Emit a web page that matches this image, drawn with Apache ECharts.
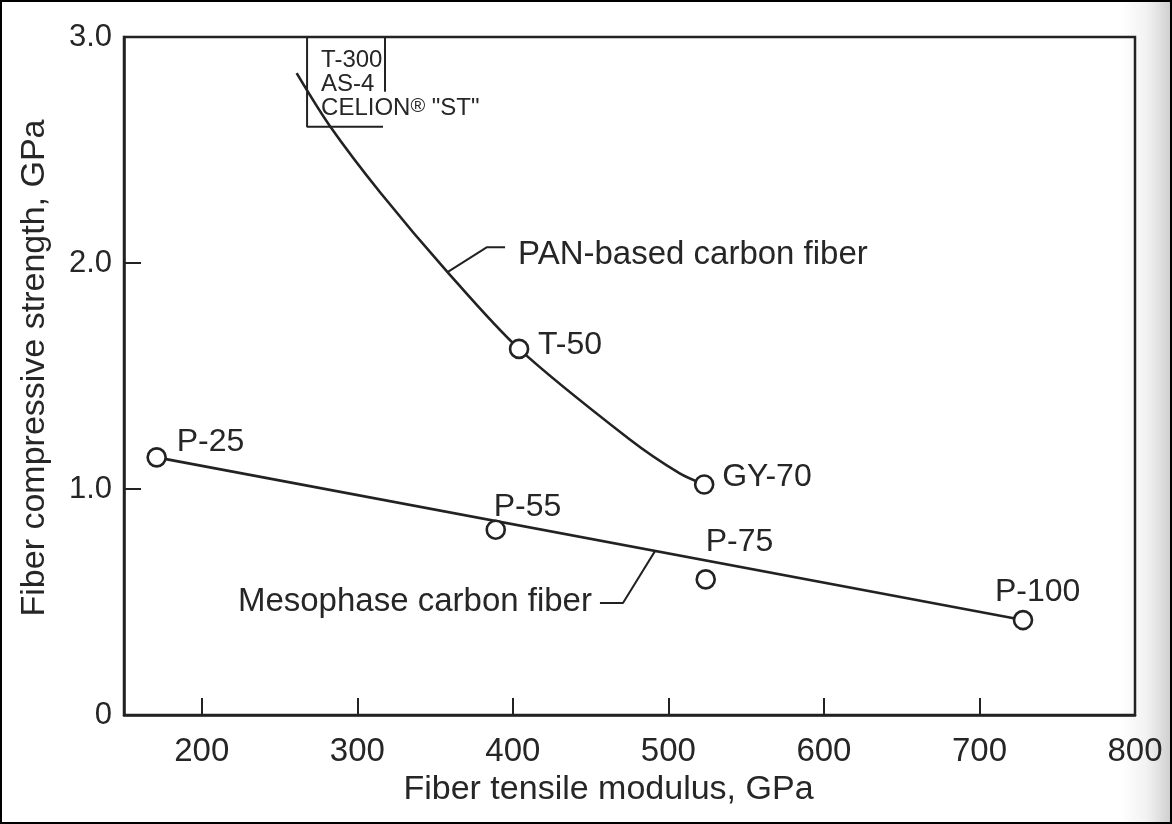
<!DOCTYPE html>
<html>
<head>
<meta charset="utf-8">
<script src="https://cdn.jsdelivr.net/npm/echarts@6/dist/echarts.min.js"></script>
<style>
  html, body { margin: 0; padding: 0; background: #fff; }
  #chart { width: 1172px; height: 824px; }
</style>
</head>
<body>
<div id="chart"></div>
<script>
// Axis tick values
const xTicks = [200, 300, 400, 500, 600, 700, 800];
const xTickMarks = [200, 300, 400, 500, 600, 700];
const yTicks = [0, 1, 2, 3];

// Mesophase pitch-based carbon fibers
const mesoNames = ['P-25', 'P-55', 'P-75', 'P-100'];
const mesoModulus = [171, 389, 524, 728];
const mesoStrength = [1.14, 0.82, 0.60, 0.42];

// PAN-based carbon fibers (marked grades)
const panNames = ['T-50', 'GY-70'];
const panModulus = [404, 523];
const panStrength = [1.62, 1.02];

// PAN-based trend curve
const panCurveModulus = [261, 282, 315, 358, 404, 475, 507, 523];
const panCurveStrength = [2.84, 2.61, 2.31, 1.96, 1.62, 1.22, 1.07, 1.02];

// Mesophase trend line
const mesoLineModulus = [171, 728];
const mesoLineStrength = [1.14, 0.42];

// Callout leaders
const panLeaderModulus = [358, 383.4, 395];
const panLeaderStrength = [1.96, 2.07, 2.07];
const mesoLeaderModulus = [456, 470.8, 491.4];
const mesoLeaderStrength = [0.496, 0.496, 0.725];

// Bracket round the high-strength PAN grades
const bracketLeftModulus = [267.7, 267.7, 316.5];
const bracketLeftStrength = [3.0, 2.603, 2.603];
const bracketRightModulus = [317.8, 317.8];
const bracketRightStrength = [3.0, 2.758];
const bracketGrades = ['T-300', 'AS-4', 'CELION'];

const INK = '#222222';
const TEXT = '#262626';
const FONT = "'Liberation Sans', Arial, Helvetica, sans-serif";

const zip = (xs, ys) => xs.map((x, i) => [x, ys[i]]);

// Label placement for each marked grade: [dx of text left, dy of text middle]
const labelOffsets = {
  'P-25': [20, -15], 'P-55': [-2, -23], 'P-75': [0, -37], 'P-100': [-28, -28],
  'T-50': [19, -4], 'GY-70': [18, -7]
};

function pointData(names, xs, ys) {
  return names.map((n, i) => ({
    name: n,
    value: [xs[i], ys[i]],
    label: {
      show: true, position: 'inside', align: 'left', verticalAlign: 'middle',
      offset: labelOffsets[n], formatter: n,
      fontSize: 32, color: TEXT, fontFamily: FONT
    }
  }));
}

const lineStyleSeries = (data, width) => ({
  type: 'line', data: data, symbol: 'none', silent: true, z: 2,
  lineStyle: { color: INK, width: width }, animation: false
});

const pointSeries = data => ({
  type: 'scatter', z: 5, symbol: 'circle', symbolSize: 18, silent: true,
  itemStyle: { color: '#ffffff', borderColor: INK, borderWidth: 2.6, opacity: 1 },
  data: data
});

const chart = echarts.init(document.getElementById('chart'), null, { renderer: 'canvas' });

const option = {
  animation: false,
  backgroundColor: '#ffffff',
  grid: {
    left: 124, right: 37, top: 37, bottom: 109,
    show: true, borderColor: INK, borderWidth: 2.5, backgroundColor: 'transparent'
  },
  xAxis: {
    type: 'value', min: 150, max: 800,
    axisLine: { show: true, lineStyle: { color: INK, width: 2.5 } },
    axisTick: { show: true, inside: true, length: 17, customValues: xTickMarks,
      lineStyle: { color: INK, width: 2 } },
    axisLabel: { customValues: xTicks, fontSize: 33, color: TEXT, margin: 20, fontFamily: FONT },
    splitLine: { show: false },
    name: 'Fiber tensile modulus, GPa',
    nameLocation: 'middle', nameGap: 56,
    nameTextStyle: { fontSize: 34, color: TEXT, fontFamily: FONT, padding: [0, 42, 0, 0] }
  },
  yAxis: {
    type: 'value', min: 0, max: 3, interval: 1,
    axisLine: { show: true, lineStyle: { color: INK, width: 2.5 } },
    axisTick: { show: true, inside: true, length: 17, lineStyle: { color: INK, width: 2 } },
    axisLabel: {
      fontSize: 31, color: TEXT, margin: 12, fontFamily: FONT,
      formatter: v => (yTicks.indexOf(v) >= 0 && v !== 0) ? v.toFixed(1) : String(v)
    },
    splitLine: { show: false },
    name: 'Fiber compressive strength, GPa',
    nameLocation: 'middle', nameGap: 72,
    nameTextStyle: { fontSize: 34, color: TEXT, fontFamily: FONT, padding: [0, 0, 0, 16] }
  },
  series: [
    Object.assign(lineStyleSeries(zip(panCurveModulus, panCurveStrength), 2.6), { smooth: 0.3 }),
    lineStyleSeries(zip(mesoLineModulus, mesoLineStrength), 2.6),
    lineStyleSeries(zip(panLeaderModulus, panLeaderStrength), 2),
    lineStyleSeries(zip(mesoLeaderModulus, mesoLeaderStrength), 2),
    lineStyleSeries(zip(bracketLeftModulus, bracketLeftStrength), 2),
    lineStyleSeries(zip(bracketRightModulus, bracketRightStrength), 2),
    pointSeries(pointData(mesoNames, mesoModulus, mesoStrength)),
    pointSeries(pointData(panNames, panModulus, panStrength))
  ]
};

chart.setOption(option);

// Text callouts anchored to data positions
const px = (x, y) => chart.convertToPixel({ gridIndex: 0 }, [x, y]);
const panEnd = px(panLeaderModulus[2], panLeaderStrength[2]);
const mesoStart = px(mesoLeaderModulus[0], mesoLeaderStrength[0]);
const bracketTop = px(bracketLeftModulus[0], bracketLeftStrength[0]);

chart.setOption({
  graphic: [
    {
      type: 'rect', z: -10, silent: true,
      shape: { x: 1120, y: 0, width: 52, height: 824 },
      style: {
        fill: {
          type: 'linear', x: 0, y: 0, x2: 1, y2: 0,
          colorStops: [
            { offset: 0, color: 'rgba(150,150,150,0)' },
            { offset: 0.5, color: 'rgba(150,150,150,0.12)' },
            { offset: 1, color: 'rgba(120,120,120,0.38)' }
          ]
        }
      }
    },
    {
      type: 'rect', z: 100, silent: true,
      shape: { x: 1, y: 1, width: 1170, height: 822 },
      style: { fill: 'none', stroke: '#000', lineWidth: 2 }
    },
    {
      type: 'text', z: 10, silent: true,
      x: panEnd[0] + 13, y: panEnd[1] + 8,
      style: {
        text: 'PAN-based carbon fiber', fontSize: 33, fontFamily: FONT,
        fill: TEXT, align: 'left', verticalAlign: 'middle'
      }
    },
    {
      type: 'text', z: 10, silent: true,
      x: mesoStart[0] - 8, y: mesoStart[1] - 1,
      style: {
        text: 'Mesophase carbon fiber', fontSize: 33, fontFamily: FONT,
        fill: TEXT, align: 'right', verticalAlign: 'middle'
      }
    },
    {
      type: 'text', z: 10, silent: true,
      x: bracketTop[0] + 14, y: bracketTop[1] + 11,
      style: {
        text: '{a|' + bracketGrades[0] + '}\n{a|' + bracketGrades[1] + '}\n{a|' +
              bracketGrades[2] + '}{r|®}{a| "ST"}',
        fontFamily: FONT, fill: TEXT, align: 'left', verticalAlign: 'top',
        rich: {
          a: { fontSize: 24, lineHeight: 24, fill: TEXT, fontFamily: FONT },
          r: { fontSize: 20, lineHeight: 24, fill: TEXT, fontFamily: FONT, verticalAlign: 'top' }
        }
      }
    }
  ]
});
</script>
</body>
</html>
